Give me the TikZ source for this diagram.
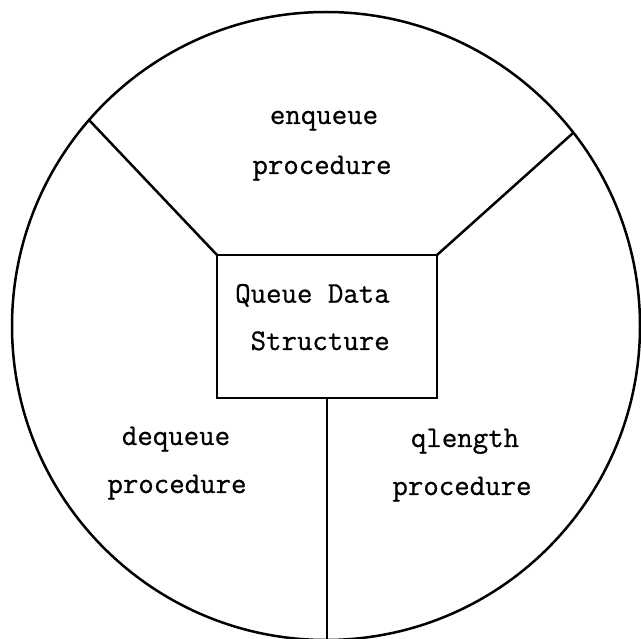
\documentclass[tikz,border=0pt]{standalone}
\usepackage{fontspec}
\newfontfamily\typewriter{Latin Modern Mono}[FakeBold=0.7]
\begin{document}
\begin{tikzpicture}[x=1pt, y=-1pt,
  ink/.style={line width=2.5pt, black},
  label/.style={font=\typewriter\fontsize{30}{49}\selectfont, inner sep=0pt, anchor=base}]
  \useasboundingbox (0,0) rectangle (641,639);

  % outer ring holding the three procedures
  \node[circle, draw, ink, minimum size=628pt, inner sep=0pt, outer sep=0pt] (ring) at (326,326) {};

  % the shared data structure in the middle
  \node[rectangle, draw, ink, minimum width=220pt, minimum height=143pt, inner sep=0pt, outer sep=0pt] (box) at (327,326.5) {};
  \node[label, anchor=base west] (qd1) at (235,302.7) {Queue Data};
  \node[label, anchor=base west] (qd2) at (235,350) {\hphantom{Q}Structure};

  % partitions between the procedures
  \draw[ink] (box.north west) -- (ring.139.5);
  \draw[ink] (box.north east) -- (ring.38.1);
  \draw[ink] (box.south) -- (box.south |- ring.south);

  % procedure labels
  \node[label] (enq1) at (324,124) {enqueue};
  \node[label] (enq2) at (322,174) {procedure};
  \node[label] (deq1) at (176,445) {dequeue};
  \node[label] (deq2) at (177,493) {procedure};
  \node[label] (qlen1) at (465,447) {qlength};
  \node[label] (qlen2) at (462,495) {procedure};
\end{tikzpicture}
\end{document}
